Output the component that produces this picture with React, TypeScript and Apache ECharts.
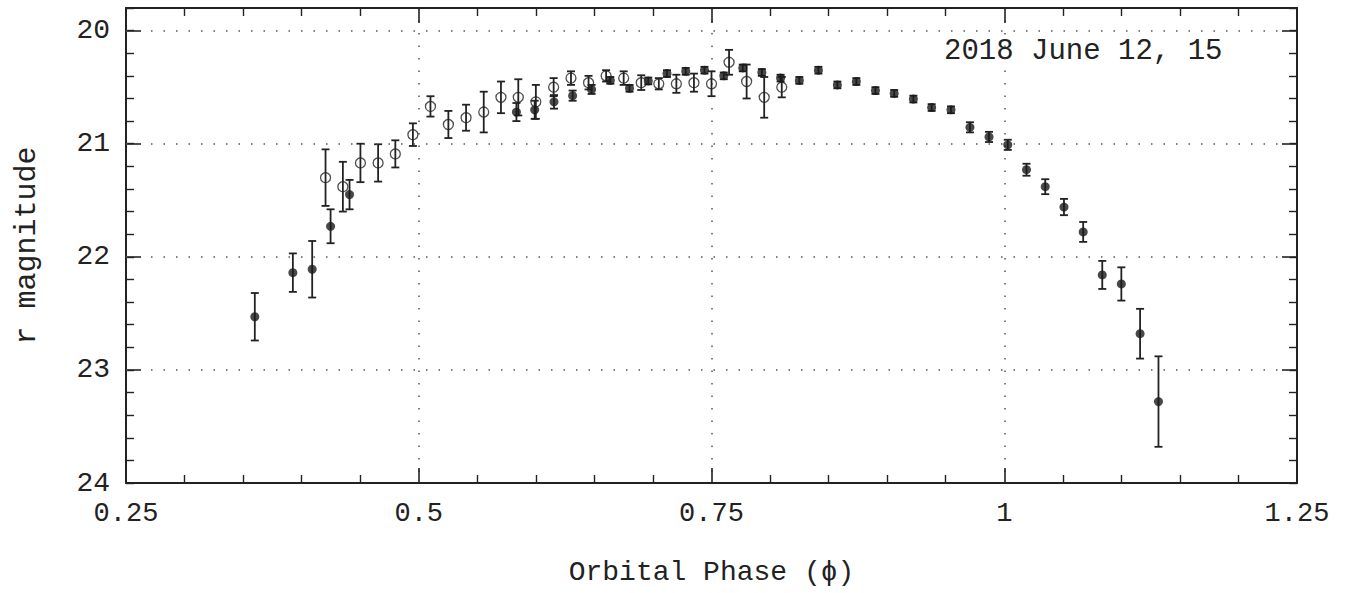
import React, { useEffect, useRef } from "react";
import * as echarts from "echarts";

// Filled points
const filledPhase = [0.360, 0.3925, 0.409, 0.4247, 0.4409, 0.5834, 0.599, 0.6155, 0.6314, 0.6476, 0.6636, 0.680, 0.696, 0.712, 0.728, 0.744, 0.7605, 0.7767, 0.793, 0.809, 0.825, 0.8413, 0.8575, 0.8737, 0.890, 0.906, 0.9224, 0.938, 0.9545, 0.9707, 0.987, 1.003, 1.019, 1.035, 1.051, 1.0674, 1.0837, 1.100, 1.116, 1.1317];
const filledMag = [22.53, 22.14, 22.11, 21.73, 21.45, 20.72, 20.70, 20.63, 20.575, 20.52, 20.44, 20.51, 20.445, 20.38, 20.36, 20.35, 20.40, 20.33, 20.37, 20.42, 20.44, 20.35, 20.48, 20.45, 20.53, 20.555, 20.605, 20.68, 20.70, 20.855, 20.94, 21.01, 21.23, 21.38, 21.56, 21.78, 22.16, 22.24, 22.68, 23.28];
const filledErr = [0.21, 0.17, 0.25, 0.15, 0.13, 0.08, 0.08, 0.06, 0.045, 0.04, 0.03, 0.03, 0.03, 0.03, 0.03, 0.03, 0.03, 0.03, 0.03, 0.03, 0.03, 0.03, 0.03, 0.03, 0.03, 0.03, 0.03, 0.03, 0.03, 0.045, 0.045, 0.045, 0.053, 0.066, 0.072, 0.088, 0.124, 0.147, 0.22, 0.40];

// Open points
const openPhase = [0.4204, 0.4352, 0.4502, 0.4653, 0.480, 0.495, 0.510, 0.5253, 0.5404, 0.5555, 0.5702, 0.585, 0.600, 0.6152, 0.630, 0.645, 0.660, 0.675, 0.690, 0.705, 0.720, 0.735, 0.750, 0.765, 0.780, 0.795, 0.810];
const openMag = [21.30, 21.38, 21.17, 21.17, 21.09, 20.92, 20.67, 20.83, 20.77, 20.72, 20.59, 20.59, 20.63, 20.50, 20.42, 20.46, 20.40, 20.42, 20.46, 20.47, 20.47, 20.46, 20.47, 20.28, 20.45, 20.59, 20.50];
const openErr = [0.25, 0.22, 0.17, 0.165, 0.12, 0.10, 0.09, 0.12, 0.115, 0.18, 0.14, 0.16, 0.15, 0.08, 0.06, 0.06, 0.05, 0.06, 0.065, 0.05, 0.08, 0.08, 0.11, 0.11, 0.15, 0.18, 0.09];

const majorYTicks = [20, 21, 22, 23, 24];
const yGridValues = [20, 21, 22, 23];
const annotation = "2018 June 12, 15";
const xTitle = "Orbital Phase (\u03D5)";
const yTitle = "r magnitude";

const INK = "#222";
const FONT = "'Liberation Mono', monospace";

export default function App() {
  const ref = useRef<HTMLDivElement>(null);
  useEffect(() => {
    if (!ref.current) return;
    const chart = echarts.init(ref.current, null, { renderer: "svg" });

    const filledData = filledPhase.map((x, i) => [x, filledMag[i], filledErr[i]]);
    const openData = openPhase.map((x, i) => [x, openMag[i], openErr[i]]);

    const errRender = (params: any, api: any) => {
      const x = api.value(0), y = api.value(1), e = api.value(2);
      const p1 = api.coord([x, y - e]);
      const p2 = api.coord([x, y + e]);
      const hw = 4;
      const style = { stroke: INK, lineWidth: 1.8 };
      return {
        type: "group",
        children: [
          { type: "line", shape: { x1: p1[0], y1: p1[1], x2: p2[0], y2: p2[1] }, style },
          { type: "line", shape: { x1: p1[0] - hw, y1: p1[1], x2: p1[0] + hw, y2: p1[1] }, style },
          { type: "line", shape: { x1: p2[0] - hw, y1: p2[1], x2: p2[0] + hw, y2: p2[1] }, style },
        ],
      };
    };

    const dotted = { color: "#555", width: 1.5, type: [1.5, 11] as any };

    const commonX = {
      type: "value",
      min: 0.25,
      max: 1.25,
      interval: 0.25,
      axisLine: { show: true, onZero: false, lineStyle: { color: INK, width: 2 } },
      axisTick: { show: true, inside: true, length: 15, lineStyle: { color: INK, width: 1.6 } },
      minorTick: { show: true, splitNumber: 5, length: 8, lineStyle: { color: INK, width: 1.4 } },
    };

    const yMinor = {
      type: "value",
      min: 19.8,
      max: 24,
      interval: 0.2,
      inverse: true,
      axisLine: { show: true, onZero: false, lineStyle: { color: INK, width: 2 } },
      axisTick: { show: true, inside: true, length: 8, lineStyle: { color: INK, width: 1.4 } },
      splitLine: { show: false },
    };

    const yMajor = {
      type: "value",
      min: 19.8,
      max: 24,
      inverse: true,
      axisLine: { show: false },
      axisTick: { show: true, inside: true, length: 15, customValues: majorYTicks, lineStyle: { color: INK, width: 1.6 } },
      axisLabel: { show: false },
      splitLine: { show: false },
    };

    chart.setOption({
      animation: false,
      backgroundColor: "#fff",
      grid: { left: 126, right: 56, top: 8, bottom: 110 },
      xAxis: [
        {
          ...commonX,
          position: "bottom",
          axisLabel: { show: true, color: INK, fontFamily: FONT, fontSize: 27, margin: 17 },
          splitLine: { show: true, lineStyle: dotted },
          name: xTitle,
          nameLocation: "middle",
          nameGap: 75,
          nameTextStyle: { color: INK, fontFamily: FONT, fontSize: 28 },
        },
        {
          ...commonX,
          position: "top",
          axisLabel: { show: false },
          splitLine: { show: false },
        },
      ],
      yAxis: [
        {
          ...yMinor,
          position: "left",
          axisLabel: {
            show: true,
            color: INK,
            fontFamily: FONT,
            fontSize: 28,
            margin: 16,
            formatter: (v: number) => (Math.abs(v - Math.round(v)) < 1e-6 ? String(Math.round(v)) : ""),
          },
          name: yTitle,
          nameLocation: "middle",
          nameGap: 84,
          nameTextStyle: { color: INK, fontFamily: FONT, fontSize: 30 },
        },
        { ...yMajor, position: "left" },
        { ...yMinor, position: "right", axisLabel: { show: false } },
        { ...yMajor, position: "right" },
      ],
      graphic: [
        {
          type: "text",
          left: 944,
          top: 37,
          style: { text: annotation, fill: INK, font: `29px ${FONT}` },
        },
      ],
      series: [
        {
          type: "line",
          data: [],
          markLine: {
            silent: true,
            symbol: "none",
            label: { show: false },
            lineStyle: dotted,
            data: yGridValues.map((v) => ({ yAxis: v })),
          },
        },
        {
          type: "custom",
          renderItem: errRender,
          data: openData,
          encode: { x: 0, y: 1 },
          z: 2,
        },
        {
          type: "custom",
          renderItem: errRender,
          data: filledData,
          encode: { x: 0, y: 1 },
          z: 2,
        },
        {
          type: "scatter",
          data: openData.map((d) => [d[0], d[1]]),
          symbol: "circle",
          symbolSize: 10,
          itemStyle: { color: "rgba(255,255,255,0)", borderColor: INK, borderWidth: 1.3 },
          z: 3,
        },
        {
          type: "scatter",
          data: filledData.map((d) => [d[0], d[1]]),
          symbol: "circle",
          symbolSize: 9,
          itemStyle: { color: "#1a1a1a" },
          z: 4,
        },
      ],
    });

    return () => chart.dispose();
  }, []);

  return (
    <div
      ref={ref}
      style={{ position: "fixed", left: 0, top: 0, width: 1353, height: 593, background: "#fff" }}
    />
  );
}
